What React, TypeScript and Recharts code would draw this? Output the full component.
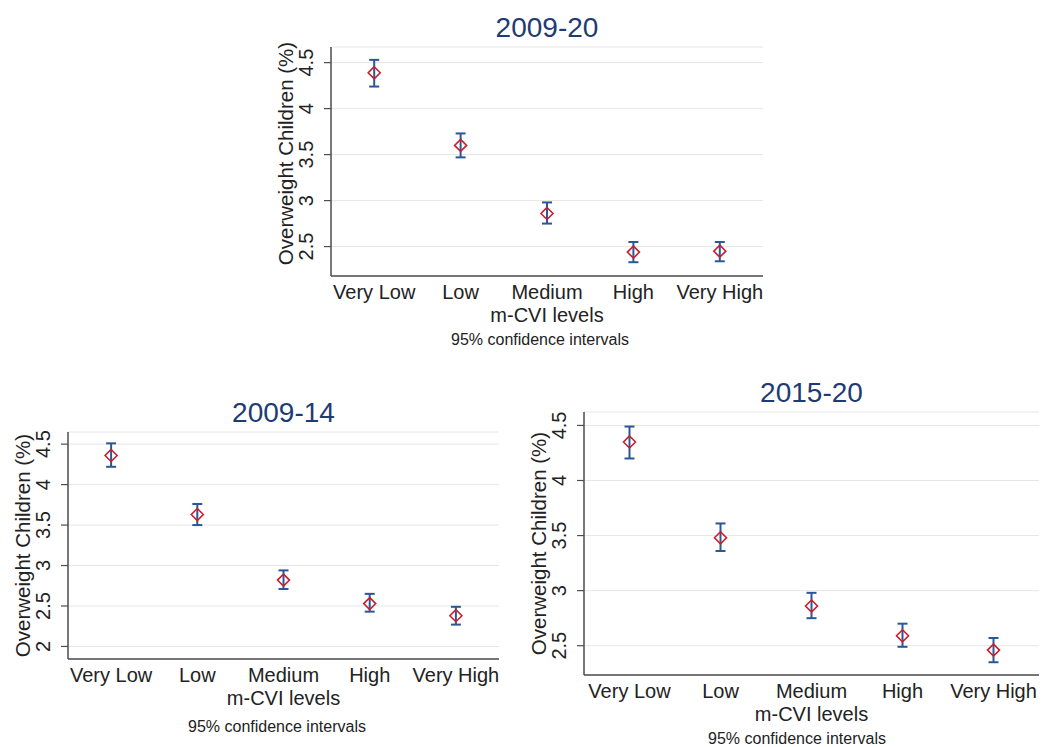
import React from "react"
import { CartesianGrid, ErrorBar, Scatter, ScatterChart, XAxis, YAxis } from "recharts"

const FONT = "'Liberation Sans', Arial, Helvetica, sans-serif"
const NAVY = "#1f3b73"
const RED = "#c8202f"
const BLUE = "#2b5797"
const AXIS = "#4d4d4d"

const categories = ["Very Low", "Low", "Medium", "High", "Very High"]

// 2009-20
const mean0920 = [4.39, 3.6, 2.86, 2.44, 2.45]
const lo0920 = [4.24, 3.47, 2.75, 2.33, 2.34]
const hi0920 = [4.53, 3.73, 2.98, 2.55, 2.55]
const ticks0920 = [2.5, 3, 3.5, 4, 4.5]

// 2009-14
const mean0914 = [4.36, 3.63, 2.82, 2.53, 2.38]
const lo0914 = [4.22, 3.5, 2.71, 2.43, 2.27]
const hi0914 = [4.51, 3.76, 2.94, 2.65, 2.49]
const ticks0914 = [2, 2.5, 3, 3.5, 4, 4.5]

// 2015-20
const mean1520 = [4.35, 3.48, 2.86, 2.59, 2.46]
const lo1520 = [4.2, 3.36, 2.75, 2.49, 2.35]
const hi1520 = [4.49, 3.61, 2.98, 2.7, 2.57]
const ticks1520 = [2.5, 3, 3.5, 4, 4.5]

const xTicks = categories.map((_, i) => i + 1)

function buildRows(mean: number[], lo: number[], hi: number[]) {
  return categories.map((c, i) => ({
    x: i + 1,
    name: c,
    y: mean[i],
    err: [mean[i] - lo[i], hi[i] - mean[i]],
  }))
}

function Diamond(props: any) {
  const { cx, cy } = props
  const r = 6
  return (
    <path
      d={`M${cx},${cy - r}L${cx + r},${cy}L${cx},${cy + r}L${cx - r},${cy}Z`}
      fill="none"
      stroke={RED}
      strokeWidth={1.6}
    />
  )
}

function YTick({ x, y, payload }: any) {
  const cx = x - 16
  return (
    <text
      x={cx}
      y={y}
      transform={`rotate(-90 ${cx} ${y})`}
      textAnchor="middle"
      dominantBaseline="central"
      fontSize={20}
      fill="#222"
      fontFamily={FONT}
    >
      {payload.value}
    </text>
  )
}

function XTick({ x, y, payload }: any) {
  return (
    <text x={x} y={y + 23} textAnchor="middle" fontSize={20} fill="#222" fontFamily={FONT}>
      {categories[payload.value - 1]}
    </text>
  )
}

interface PanelProps {
  title: string
  box: { x0: number; y0: number; x1: number; y1: number }
  domain: [number, number]
  ticks: number[]
  rows: { x: number; y: number; err: number[] }[]
  note: { x: number; y: number }
  labelShift?: number
}

const YW = 64
const TOPM = 10
const RM = 12
const XH = 60

function Panel({ title, box, domain, ticks, rows, note, labelShift = 0 }: PanelProps) {
  const plotW = box.x1 - box.x0
  const plotH = box.y1 - box.y0
  return (
    <>
      <div
        style={{
          position: "absolute",
          left: box.x0,
          top: box.y0 - 19 - 17,
          width: plotW,
          height: 34,
          lineHeight: "34px",
          textAlign: "center",
          fontSize: 28,
          color: NAVY,
          fontFamily: FONT,
        }}
      >
        {title}
      </div>
      <div style={{ position: "absolute", left: box.x0 - YW, top: box.y0 - TOPM }}>
        <ScatterChart
          width={plotW + YW + RM}
          height={plotH + TOPM + XH}
          margin={{ top: TOPM, right: RM, bottom: 0, left: 0 }}
        >
          <CartesianGrid vertical={false} stroke="#e6e6e6" strokeWidth={1} />
          <XAxis
            type="number"
            dataKey="x"
            domain={[0.5, 5.5]}
            ticks={xTicks}
            interval={0}
            height={XH}
            tickLine={false}
            tickSize={0}
            tickMargin={0}
            tick={XTick}
            axisLine={{ stroke: AXIS, strokeWidth: 1.5 }}
            label={(p: any) => {
              const vb = p.viewBox
              return (
                <text
                  x={vb.x + vb.width / 2}
                  y={vb.y + 46}
                  textAnchor="middle"
                  fontSize={20}
                  fill="#222"
                  fontFamily={FONT}
                >
                  m-CVI levels
                </text>
              )
            }}
          />
          <YAxis
            type="number"
            dataKey="y"
            domain={domain}
            ticks={ticks}
            allowDataOverflow
            width={YW}
            tickSize={7}
            tickMargin={2}
            tick={YTick}
            tickLine={{ stroke: AXIS, strokeWidth: 1.2 }}
            axisLine={{ stroke: AXIS, strokeWidth: 1.5 }}
            label={(p: any) => {
              const vb = p.viewBox
              const cx = vb.x + vb.width - 46
              const cy = vb.y + vb.height / 2 + labelShift
              return (
                <text
                  x={cx}
                  y={cy}
                  transform={`rotate(-90 ${cx} ${cy})`}
                  textAnchor="middle"
                  dominantBaseline="central"
                  fontSize={20.5}
                  fill="#222"
                  fontFamily={FONT}
                >
                  Overweight Children (%)
                </text>
              )
            }}
          />
          <Scatter data={rows} shape={Diamond} isAnimationActive={false}>
            <ErrorBar dataKey="err" direction="y" width={5} stroke={BLUE} strokeWidth={2} isAnimationActive={false} />
          </Scatter>
        </ScatterChart>
      </div>
      <div
        style={{
          position: "absolute",
          left: note.x - 150,
          top: note.y - 10,
          width: 300,
          height: 20,
          lineHeight: "20px",
          textAlign: "center",
          fontSize: 16,
          color: "#222",
          fontFamily: FONT,
        }}
      >
        95% confidence intervals
      </div>
    </>
  )
}

export default function App() {
  return (
    <div
      style={{
        position: "absolute",
        left: 0,
        top: 0,
        width: 1054,
        height: 747,
        background: "#fff",
        overflow: "hidden",
        fontFamily: FONT,
      }}
    >
      <Panel
        title="2009-20"
        box={{ x0: 331, y0: 47, x1: 763, y1: 276 }}
        domain={[2.18, 4.67]}
        ticks={ticks0920}
        rows={buildRows(mean0920, lo0920, hi0920)}
        note={{ x: 540, y: 340 }}
        labelShift={-8}
      />
      <Panel
        title="2009-14"
        box={{ x0: 68, y0: 432, x1: 499, y1: 659 }}
        domain={[1.845, 4.65]}
        ticks={ticks0914}
        rows={buildRows(mean0914, lo0914, hi0914)}
        note={{ x: 277, y: 727 }}
      />
      <Panel
        title="2015-20"
        box={{ x0: 584, y0: 412, x1: 1039, y1: 675 }}
        domain={[2.234, 4.622]}
        ticks={ticks1520}
        rows={buildRows(mean1520, lo1520, hi1520)}
        note={{ x: 797, y: 739 }}
      />
    </div>
  )
}
